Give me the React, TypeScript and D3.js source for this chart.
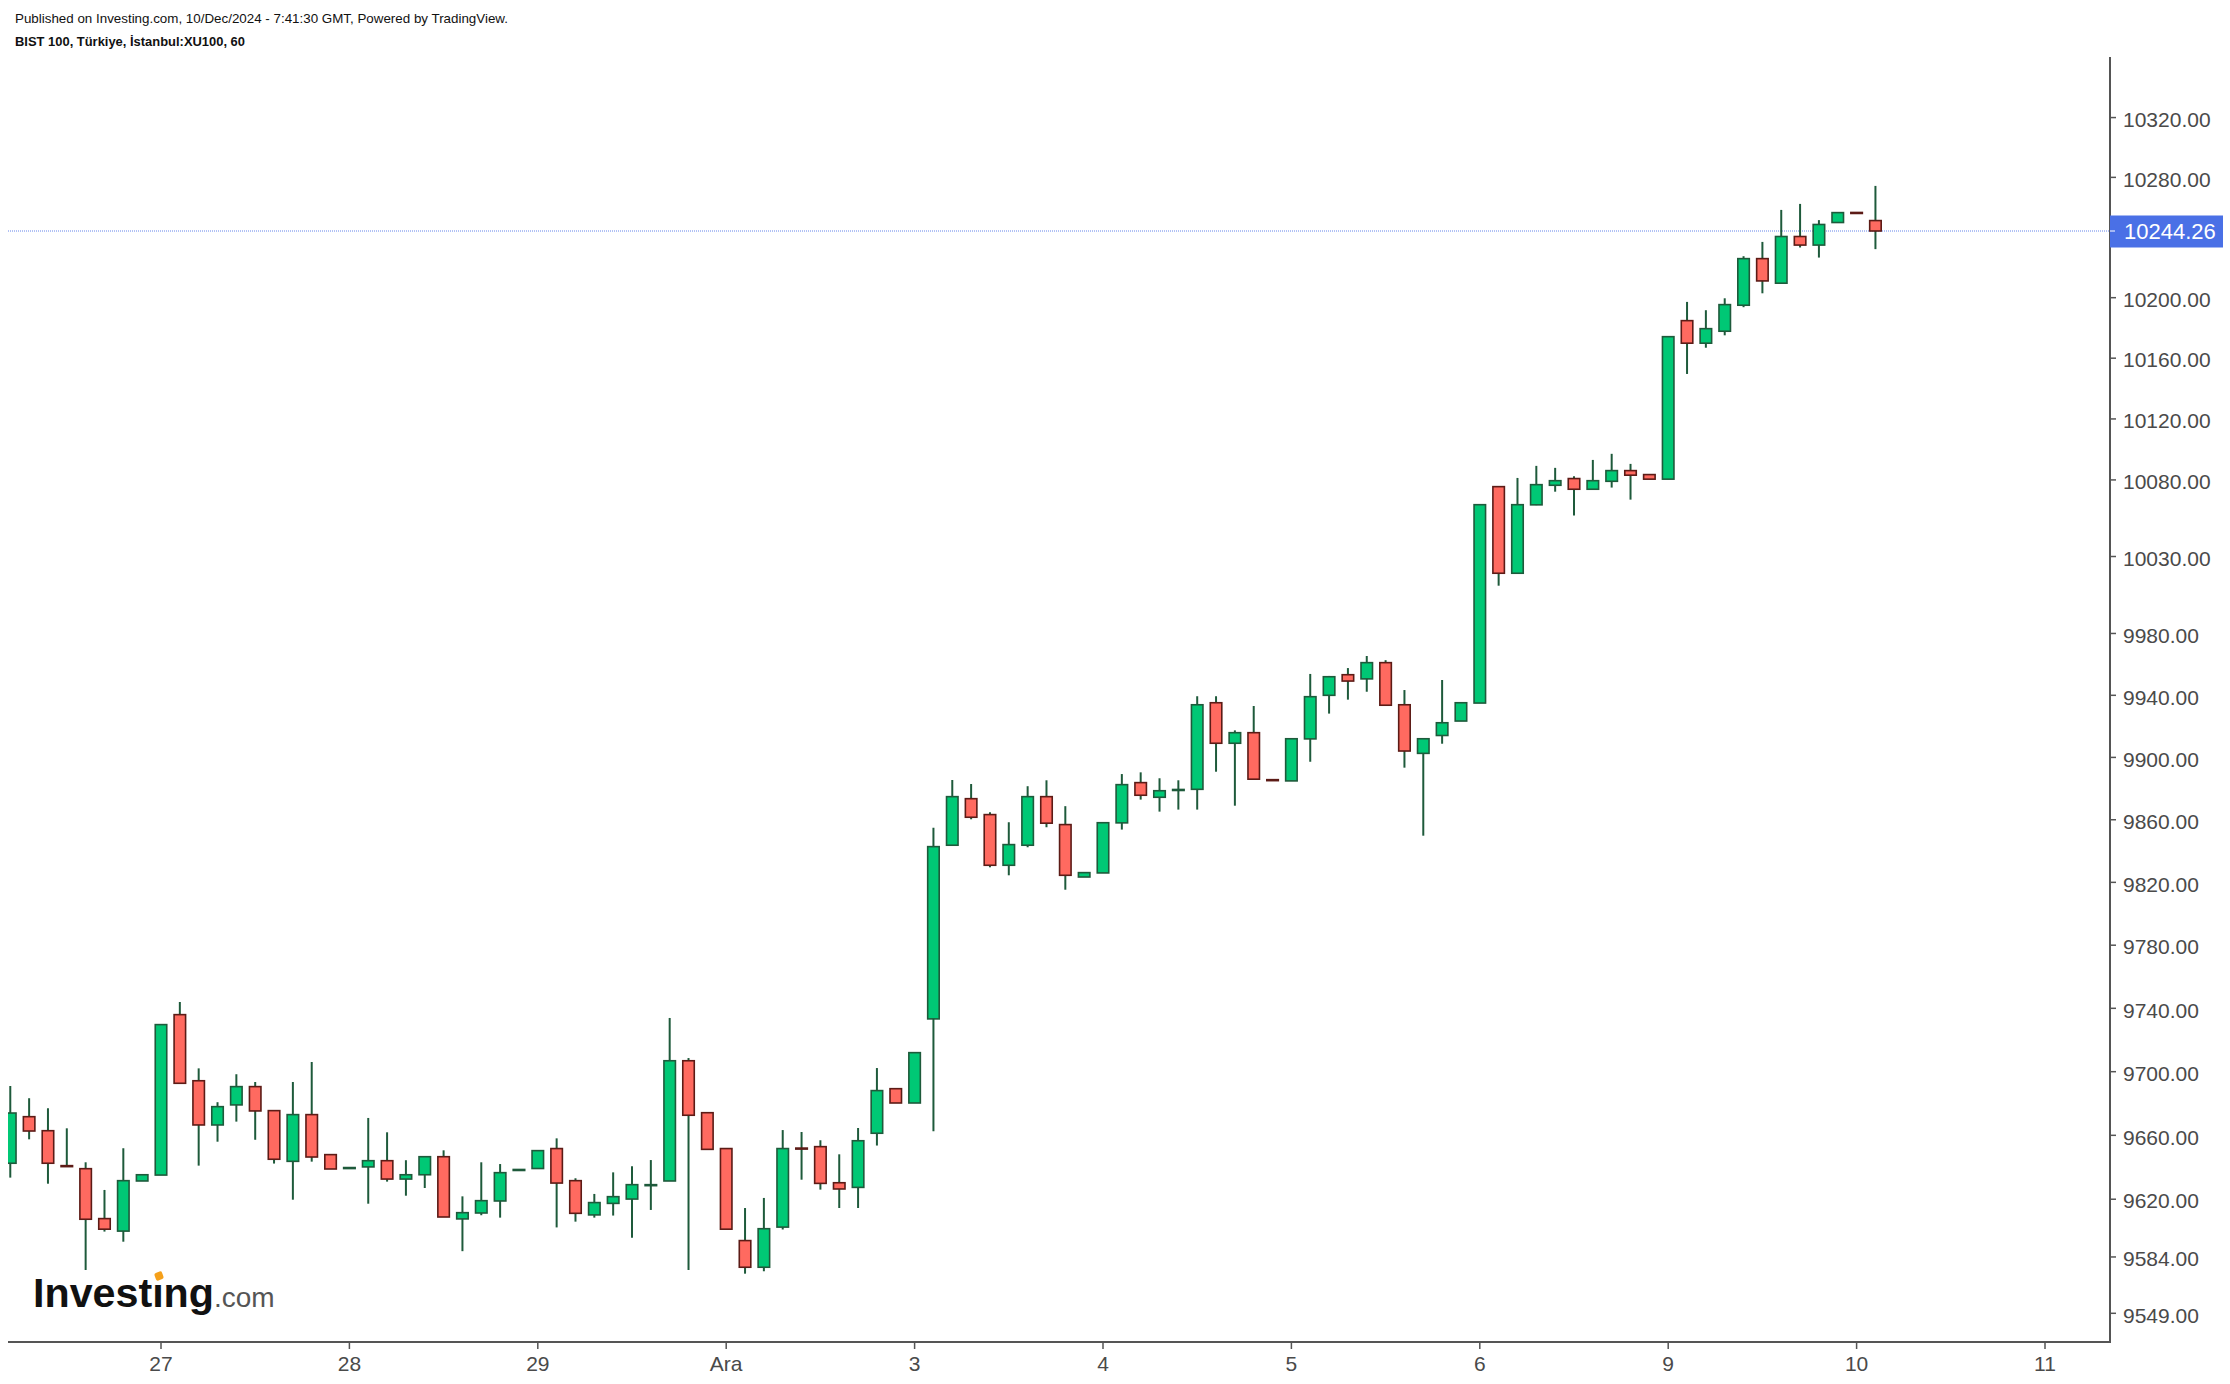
import * as d3 from "d3";

// hourly candles, 26 Kas (partial) .. 10 Ara 2024
const opens = [
  9642.5, 9671.7, 9662.9, 9641, 9639.1, 9607.9, 9600.1, 9631.4,
  9635.1, 9736, 9694.3, 9666.5, 9679.1, 9690.6, 9675.5, 9643.7, 9673, 9647.9,
  9639.6, 9640.2, 9644.1, 9632.6, 9635.3, 9646.6, 9607.7, 9611.4, 9618.9, 9638.4,
  9639.2, 9651.7, 9631.6, 9610.2, 9617.4, 9620.1, 9629, 9631.4, 9706.9, 9674.2,
  9651.7, 9594.2, 9577.6, 9602.6, 9652, 9652.9, 9630.3, 9627.4, 9661.3, 9689.3,
  9680.3, 9733.3, 9843.7, 9873.5, 9863.3, 9830.9, 9843.7, 9874.8, 9856.9, 9823.4,
  9826, 9858, 9883.8, 9874.4, 9879.2, 9879.5, 9935.2, 9909.1, 9915.9, 9885.7,
  9884.9, 9911.9, 9940, 9953.3, 9950.6, 9961.1, 9933.9, 9902.6, 9914.1, 9923.4,
  9935, 10075.6, 10019.1, 10063.7, 10076.5, 10080.9, 10073.9, 10079.1, 10086.1, 10083.5,
  10080.5, 10184.8, 10169.9, 10177.8, 10195, 10225.9, 10209.6, 10240.6, 10234.9, 10249.9,
  10256.6, 10251.2,
];
const highs = [
  9691, 9683.3, 9677, 9664.4, 9643.1, 9625.8, 9651.9, 9635.3,
  9729.7, 9744, 9702.1, 9680.8, 9698.4, 9693.5, 9675.5, 9693.5, 9706.1, 9647.9,
  9639.8, 9670.9, 9661.9, 9644.4, 9646.6, 9650.6, 9621.8, 9643.1, 9642, 9638.6,
  9650.4, 9658.1, 9633.1, 9623.3, 9636.8, 9640.6, 9644.5, 9733.9, 9708.6, 9674.2,
  9651.7, 9614.5, 9620.8, 9663.3, 9662.1, 9656.9, 9648.1, 9664.6, 9702.3, 9689.3,
  9712, 9854.8, 9885.5, 9882.9, 9864.8, 9858.4, 9881.5, 9885.3, 9868.7, 9826.2,
  9858.1, 9889.3, 9890.4, 9886.6, 9885.3, 9939.4, 9939.4, 9917.4, 9933.1, 9885.7,
  9912, 9953.8, 9952.5, 9957.6, 9965.4, 9962.7, 9943.4, 9912.5, 9949.9, 9935.2,
  10063.8, 10076, 10081.3, 10089.2, 10087.9, 10082.4, 10093.1, 10097.1, 10090.5, 10083.5,
  10174.2, 10197.2, 10191.7, 10199.6, 10227.5, 10237, 10258.3, 10262.3, 10251.5, 10256.5,
  10256.6, 10274.3,
];
const lows = [
  9633.5, 9657.5, 9629.7, 9640.5, 9575.9, 9599.8, 9593.5, 9631.4,
  9635.1, 9692.7, 9641, 9656, 9668.6, 9657.2, 9642.3, 9619.7, 9643.5, 9638.9,
  9639.6, 9617.2, 9631, 9622.2, 9627, 9608.9, 9587.6, 9610, 9608.5, 9638.4,
  9639.2, 9602.4, 9606, 9608.5, 9609.8, 9596, 9613.3, 9631.4, 9575.9, 9651.2,
  9601.3, 9573.6, 9575.1, 9601.1, 9632.2, 9626, 9614.5, 9614.5, 9653.6, 9680.3,
  9680.3, 9662.5, 9843.7, 9860.3, 9829.6, 9824.5, 9842.4, 9855.2, 9815.3, 9823.4,
  9826, 9853.7, 9872.9, 9865.2, 9866.5, 9866.5, 9890.8, 9869, 9886, 9885.3,
  9884.9, 9897.2, 9928.2, 9937.2, 9942.3, 9933.6, 9893.4, 9849.8, 9908.8, 9923.4,
  9935, 10011, 10019.1, 10063.5, 10072.3, 10056.7, 10073.5, 10075, 10067.1, 10080.5,
  10080.5, 10149.6, 10166.9, 10175.1, 10193.7, 10202.9, 10209.5, 10233.3, 10226.6, 10249.9,
  10256.4, 10232.2,
];
const closes = [
  9674, 9662.7, 9642.5, 9640.5, 9607.5, 9601.3, 9631.6, 9635.3,
  9729.7, 9692.7, 9666.5, 9678, 9690.6, 9675.3, 9645, 9673, 9646.4, 9638.9,
  9639.8, 9644.1, 9632.6, 9635.3, 9646.6, 9608.9, 9611.6, 9619.1, 9636.6, 9638.6,
  9650.4, 9630.1, 9611.2, 9617.9, 9621.6, 9629.1, 9629.1, 9706.9, 9672.6, 9651.2,
  9601.3, 9577.6, 9601.6, 9651.7, 9651.5, 9629.9, 9626.4, 9656.6, 9688.1, 9680.3,
  9712, 9842.8, 9874.8, 9861.6, 9830.9, 9844.1, 9874.8, 9857.8, 9824.5, 9826.2,
  9858.1, 9882.5, 9875.7, 9878.6, 9879.4, 9933.9, 9909.1, 9915.9, 9886, 9885.3,
  9912, 9939.1, 9952, 9949.2, 9961.1, 9933.6, 9904.1, 9912, 9922.3, 9935.2,
  10063.8, 10019.1, 10063.8, 10076.9, 10079.5, 10073.9, 10079.5, 10086.1, 10083.1, 10080.5,
  10174.2, 10169.9, 10179.5, 10195.4, 10225.9, 10211.1, 10240.6, 10234.9, 10248.6, 10256.5,
  10256.4, 10244.26,
];

const dayLabels = ["27", "28", "29", "Ara", "3", "4", "5", "6", "9", "10", "11"];
const dayStarts = [8, 18, 28, 38, 48, 58, 68, 78, 88, 98, 108];
const yTicks = [
  9549, 9584, 9620, 9660, 9700, 9740, 9780, 9820, 9860, 9900, 9940, 9980,
  10030, 10080, 10120, 10160, 10200, 10280, 10320,
];
const lastPrice = 10244.26;

const font = "'Liberation Sans', Arial, Helvetica, sans-serif";
const upFill = "#00c875";
const upLine = "#1e5a3b";
const downFill = "#ff6a60";
const downLine = "#5c1b16";
const axisColor = "#555555";
const labelColor = "#4a4a4a";
const priceBlue = "#4a70e6";

export default function App() {
  const width = 2230;
  const height = 1384;
  const plotLeft = 8;
  const axisX = 2110;
  const plotTop = 57;
  const plotBottom = 1342;

  const x = d3.scaleLinear([8, 108], [161, 2045]);
  const y = d3.scaleLog([9549, lastPrice], [1313.3, 231]);
  const bodyW = 11.5;

  return (
    <svg
      width={width}
      height={height}
      style={{ position: "absolute", left: 0, top: 0, background: "#fff" }}
      fontFamily={font}
    >
      <defs>
        <clipPath id="plot">
          <rect x={plotLeft} y={plotTop} width={axisX - plotLeft} height={plotBottom - plotTop} />
        </clipPath>
      </defs>

      <text x={15} y={23} fontSize={13.6} fill="#111" textLength={493} lengthAdjust="spacingAndGlyphs">
        Published on Investing.com, 10/Dec/2024 - 7:41:30 GMT, Powered by TradingView.
      </text>
      <text x={15} y={46} fontSize={13.4} fontWeight="bold" fill="#111" textLength={230} lengthAdjust="spacingAndGlyphs">
        BIST 100, Türkiye, İstanbul:XU100, 60
      </text>

      {/* last price line */}
      <line
        x1={plotLeft}
        x2={axisX}
        y1={y(lastPrice)}
        y2={y(lastPrice)}
        stroke={priceBlue}
        strokeOpacity={0.85}
        strokeWidth={1}
        strokeDasharray="1 1"
      />

      <g clipPath="url(#plot)">
        {opens.map((o, i) => {
          const c = closes[i];
          const up = c >= o;
          const cx = x(i);
          const yTop = y(Math.max(o, c));
          const yBot = y(Math.min(o, c));
          return (
            <g key={i}>
              <line x1={cx} x2={cx} y1={y(highs[i])} y2={y(lows[i])} stroke={upLine} strokeWidth={2} />
              <rect
                x={cx - bodyW / 2}
                y={yTop}
                width={bodyW}
                height={Math.max(1, yBot - yTop)}
                fill={up ? upFill : downFill}
                stroke={up ? upLine : downLine}
                strokeWidth={1.6}
              />
            </g>
          );
        })}
      </g>

      {/* axes */}
      <line x1={axisX} x2={axisX} y1={plotTop} y2={plotBottom + 1} stroke={axisColor} strokeWidth={2} />
      <line x1={plotLeft} x2={axisX + 1} y1={plotBottom} y2={plotBottom} stroke={axisColor} strokeWidth={2} />

      {yTicks.map((t) => (
        <g key={t} transform={`translate(0,${y(t)})`}>
          <line x1={axisX} x2={axisX + 6} stroke={axisColor} strokeWidth={1.5} />
          <text x={2123} dy="0.44em" fontSize={21} fill={labelColor}>
            {t.toFixed(2)}
          </text>
        </g>
      ))}

      {dayStarts.map((d, k) => (
        <g key={d} transform={`translate(${x(d)},0)`}>
          <line y1={plotBottom} y2={plotBottom + 7} stroke={axisColor} strokeWidth={1.5} />
          <text y={1371} textAnchor="middle" fontSize={21} fill={labelColor}>
            {dayLabels[k]}
          </text>
        </g>
      ))}

      {/* last price badge */}
      <rect x={axisX} y={y(lastPrice) - 15.5} width={113} height={32} fill={priceBlue} />
      <line x1={axisX} x2={axisX + 5} y1={y(lastPrice)} y2={y(lastPrice)} stroke="#fff" strokeWidth={1} />
      <text x={2124} y={y(lastPrice)} dy="0.38em" fontSize={22} fill="#fff">
        {lastPrice.toFixed(2)}
      </text>

      {/* watermark */}
      <text x={33} y={1307} fill="#111">
        <tspan fontSize={41} fontWeight="bold" textLength={181} lengthAdjust="spacingAndGlyphs">
          Investıng
        </tspan>
        <tspan fontSize={28} fill="#555">.com</tspan>
      </text>
      <rect x={155} y={1272} width={8} height={8} rx={2} fill="#f5a01a" transform="rotate(-20 159 1276)" />
    </svg>
  );
}
